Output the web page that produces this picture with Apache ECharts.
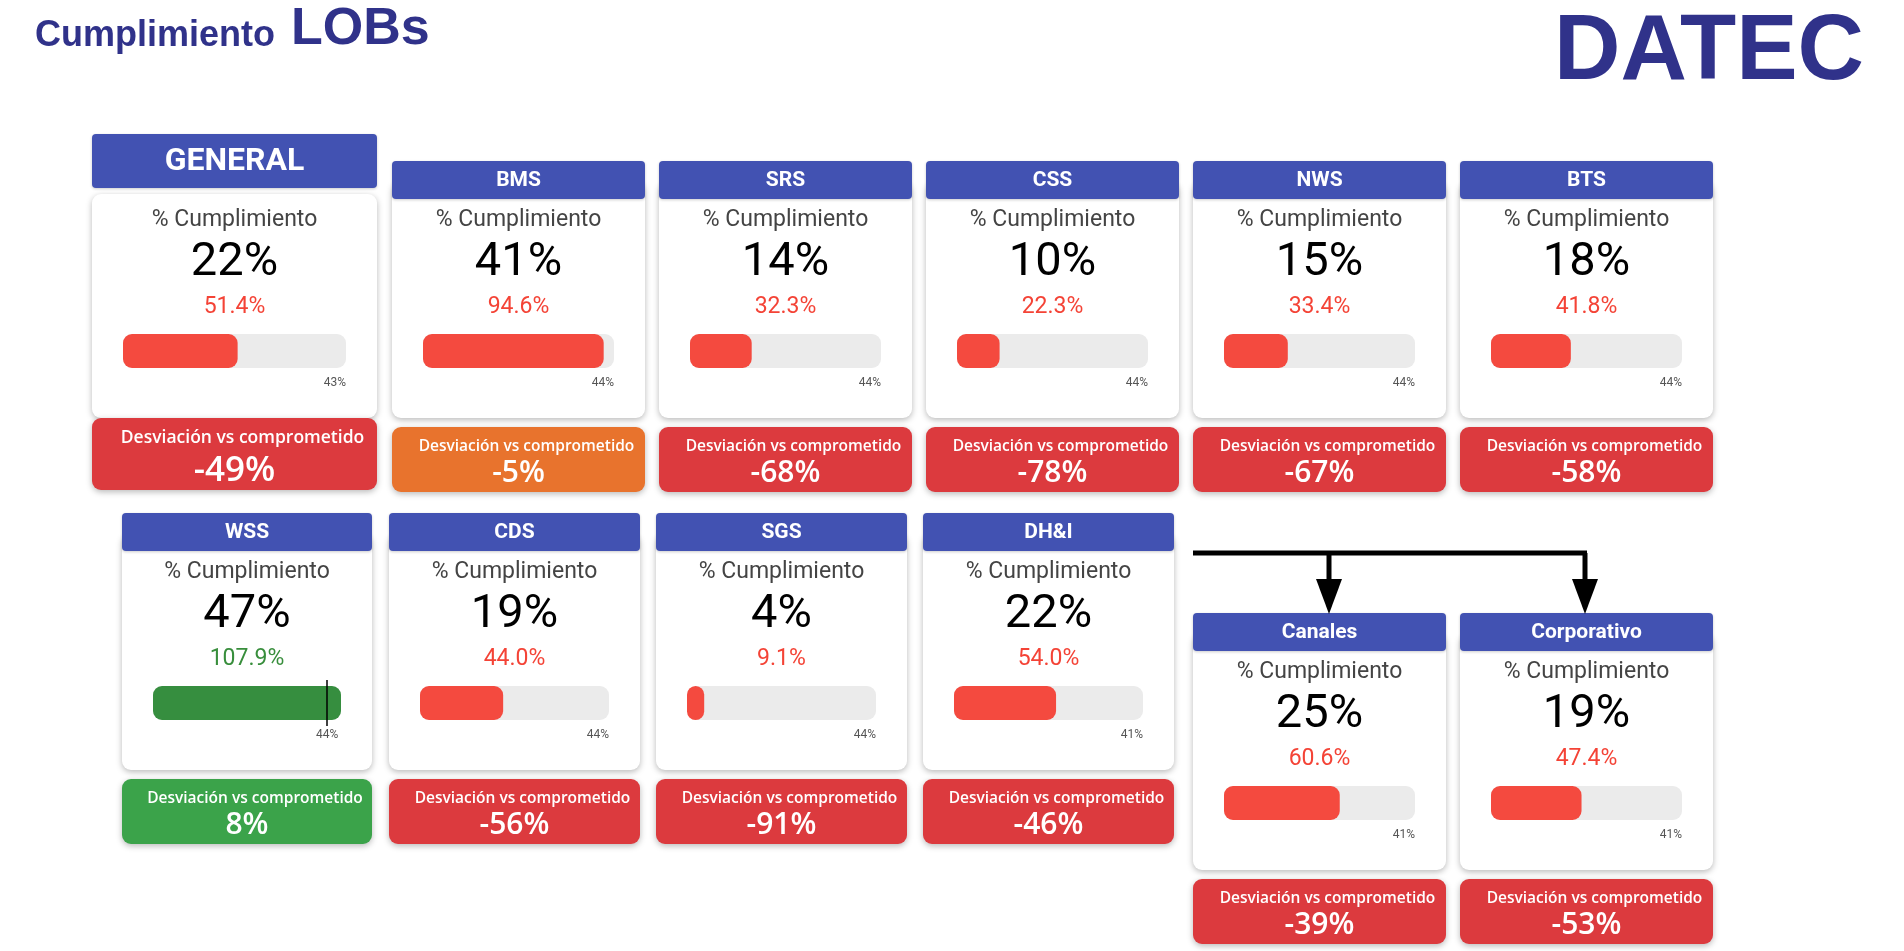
<!DOCTYPE html>
<html><head><meta charset="utf-8">
<script src="https://cdn.jsdelivr.net/npm/echarts@6/dist/echarts.min.js"></script>
<style>html,body{margin:0;padding:0;background:#fff}#c{width:1904px;height:951px}</style>
</head><body><div id="c"></div>
<script>
// ---- data ----
const lobs = ['GENERAL','BMS','SRS','CSS','NWS','BTS','WSS','CDS','SGS','DH&I','Canales','Corporativo'];
const cumplimiento = [22,41,14,10,15,18,47,19,4,22,25,19];
const avance = [51.4,94.6,32.3,22.3,33.4,41.8,107.9,44.0,9.1,54.0,60.6,47.4];
const meta = [43,44,44,44,44,44,44,44,44,41,41,41];
const desviacion = [-49,-5,-68,-78,-67,-58,8,-56,-91,-46,-39,-53];
const metaTotal = 100;

// ---- layout (positions only) ----
const layout = [
  {x:92,y:161,w:285,big:true},
  {x:392,y:161,w:253},{x:659,y:161,w:253},{x:926,y:161,w:253},{x:1193,y:161,w:253},{x:1460,y:161,w:253},
  {x:122,y:513,w:250},{x:389,y:513,w:251},{x:656,y:513,w:251},{x:923,y:513,w:251},
  {x:1193,y:613,w:253},{x:1460,y:613,w:253}
];

const C = {
  header:'#4252B2', title:'#30328A', red:'#F44A3F', redText:'#F44336', green:'#368E3F', greenText:'#388E3C',
  devRed:'#DC3A3E', devOrange:'#E8732D', devGreen:'#3BA34A', track:'#EBEBEB'
};
function devColor(v){ return v >= 0 ? C.devGreen : (v > -10 ? C.devOrange : C.devRed); }

const chart = echarts.init(document.getElementById('c'), null, {renderer:'canvas'});

const grids = [], xAxes = [], yAxes = [], series = [];
lobs.forEach((name,i)=>{
  const L = layout[i];
  grids.push({left:L.x+31, width:L.w-62, top:L.y+167, height:46, containLabel:false});
  xAxes.push({type:'value', gridIndex:i, min:0, max:Math.max(metaTotal, avance[i]), show:false});
  yAxes.push({type:'category', gridIndex:i, data:[name], show:false});
  const s = {
    type:'bar', name:name, xAxisIndex:i, yAxisIndex:i, data:[avance[i]], barWidth:34, silent:true,
    showBackground:true, backgroundStyle:{color:C.track, borderRadius:9},
    itemStyle:{color: avance[i] >= metaTotal ? C.green : C.red, borderRadius:9}
  };
  if (avance[i] > metaTotal) {
    s.markLine = {symbol:'none', silent:true, animation:false, label:{show:false},
      lineStyle:{color:'#000', width:1.5, type:'solid'}, data:[{xAxis:metaTotal}]};
  }
  series.push(s);
});

chart.setOption({animation:false, grid:grids, xAxis:xAxes, yAxis:yAxes, series:series});

// ---- graphic elements ----
const G = [];
const shadow = {shadowBlur:6, shadowOffsetY:2, shadowColor:'rgba(0,0,0,0.28)'};
function txt(t,x,y,font,fill,align,z){
  G.push({type:'text', z:z||5, silent:true, style:{text:t, x:x, y:y, font:font, fill:fill,
    textAlign:align||'center', textVerticalAlign:'middle'}});
}
txt('Cumplimiento', 35, 36, 'bold 36px "Liberation Sans", Arial', C.title, 'left');
txt('LOBs', 291, 30, 'bold 52px "Liberation Sans", Arial', C.title, 'left');
txt('DATEC', 1864, 54, 'bold 92px "Liberation Sans", Arial', C.title, 'right');

lobs.forEach((name,i)=>{
  const L = layout[i], h = L.y, cx = L.x + L.w/2;
  // card body
  const cardTop = L.big ? 194 : h+20;
  G.push({type:'rect', z:1, silent:true, shape:{x:L.x, y:cardTop, width:L.w, height:h+257-cardTop, r:9},
    style:Object.assign({fill:'#fff'}, shadow)});
  // header
  const hy = L.big ? 134 : h, hh = L.big ? 54 : 38;
  G.push({type:'rect', z:2, silent:true, shape:{x:L.x, y:hy, width:L.w, height:hh, r:4},
    style:{fill:C.header, shadowBlur:3, shadowOffsetY:1, shadowColor:'rgba(0,0,0,0.2)'}});
  txt(name, cx, hy+hh/2+1, L.big ? 'bold 32px Roboto' : 'bold 21px Roboto', '#fff');
  // card texts
  txt('% Cumplimiento', cx, h+59, '23px Roboto', '#444');
  txt(cumplimiento[i]+'%', cx, h+102, '47px Roboto', '#000');
  txt(avance[i].toFixed(1)+'%', cx, h+146, '23px Roboto', avance[i] >= metaTotal ? C.greenText : C.redText);
  // deviation box
  const dTop = L.big ? 418 : h+266, dH = L.big ? 72 : 65;
  G.push({type:'rect', z:1, silent:true, shape:{x:L.x, y:dTop, width:L.w, height:dH, r:9},
    style:Object.assign({fill:devColor(desviacion[i])}, shadow)});
  txt('Desviación vs comprometido', cx+8, L.big ? 438 : h+286, L.big ? '600 17.5px "Open Sans"' : '600 15.5px "Open Sans"', '#fff');
  txt(desviacion[i]+'%', cx, L.big ? 471 : h+312, L.big ? '600 35px "Open Sans"' : '600 30px "Open Sans"', '#fff');
  // target label placed through the axis scale
  const px = chart.convertToPixel({xAxisIndex:i}, metaTotal);
  txt(meta[i]+'%', px, h+222, '12px Roboto', '#555', avance[i] > metaTotal ? 'center' : 'right', 6);
});

// connector arrows
G.push({type:'polyline', z:3, silent:true, shape:{points:[[1193,553],[1587,553]]}, style:{stroke:'#000', lineWidth:5, fill:null}});
[1329,1585].forEach(x=>{
  G.push({type:'polyline', z:3, silent:true, shape:{points:[[x,553],[x,582]]}, style:{stroke:'#000', lineWidth:5, fill:null}});
  G.push({type:'polygon', z:3, silent:true, shape:{points:[[x-13,579],[x+13,579],[x,614]]}, style:{fill:'#000'}});
});

chart.setOption({graphic:{elements:G}});
</script></body></html>
